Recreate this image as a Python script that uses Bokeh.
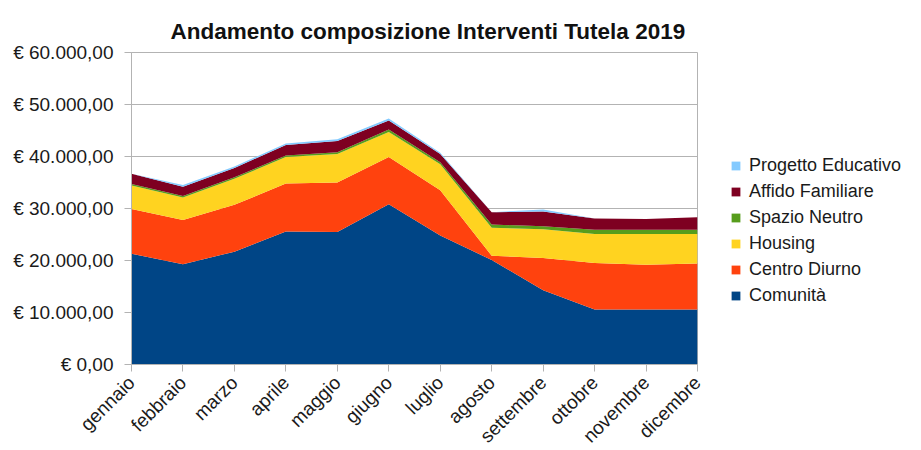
from bokeh.plotting import figure
from bokeh.models import (ColumnDataSource, Range1d, FixedTicker, Legend, LegendItem)
from bokeh.embed import file_html
from bokeh.resources import INLINE
import math

# ---- data ----
months = ["gennaio", "febbraio", "marzo", "aprile", "maggio", "giugno",
          "luglio", "agosto", "settembre", "ottobre", "novembre", "dicembre"]
comunita = [21300, 19300, 21700, 25600, 25500, 30800, 24800, 20100, 14300, 10600, 10600, 10600]
centro_diurno = [8600, 8500, 9000, 9200, 9500, 9100, 8700, 800, 6200, 8900, 8600, 8800]
housing = [4500, 4300, 5000, 5100, 5500, 4800, 5000, 5400, 5500, 5600, 5900, 5700]
spazio_neutro = [300, 300, 300, 300, 300, 500, 400, 600, 600, 800, 800, 800]
affido_familiare = [2000, 1800, 1800, 2000, 2200, 1700, 1600, 2400, 2800, 2200, 2100, 2400]
progetto_educativo = [0, 300, 300, 300, 300, 400, 200, 0, 400, 0, 0, 0]

series_names = ["Comunità", "Centro Diurno", "Housing", "Spazio Neutro",
                "Affido Familiare", "Progetto Educativo"]
series_keys = ["comunita", "centro", "housing", "spazio", "affido", "progetto"]
colors = ["#004586", "#ff420e", "#ffd320", "#579d1c", "#7e0021", "#83caff"]
y_ticks = [0, 10000, 20000, 30000, 40000, 50000, 60000]
y_tick_labels = ["€ 0,00", "€ 10.000,00", "€ 20.000,00", "€ 30.000,00",
                 "€ 40.000,00", "€ 50.000,00", "€ 60.000,00"]

source = ColumnDataSource(dict(
    x=list(range(len(months))),
    comunita=comunita, centro=centro_diurno, housing=housing,
    spazio=spazio_neutro, affido=affido_familiare, progetto=progetto_educativo,
))

FONT = "Liberation Sans"

p = figure(frame_width=566, frame_height=312, output_backend="svg", toolbar_location=None,
           x_range=Range1d(0, len(months) - 1), y_range=Range1d(0, 60000),
           min_border_left=131, min_border_right=224, min_border_top=52,
           min_border_bottom=80)
p.title.text = "Andamento composizione Interventi Tutela 2019"
p.title.text_font = FONT
p.title.text_font_size = "22.5px"
p.title.text_font_style = "bold"
p.title.align = "left"
p.title.offset = 39
p.title.standoff = 18
p.title.text_color = "#111111"

renderers = p.varea_stack(stackers=series_keys, x="x", color=colors, source=source)

p.outline_line_color = "#b3b3b3"
p.background_fill_color = "white"
p.border_fill_color = "white"

# axes
p.xaxis.ticker = FixedTicker(ticks=list(range(len(months))))
p.xaxis.major_label_overrides = {i: m for i, m in enumerate(months)}
p.xaxis.major_label_orientation = math.pi / 4
p.yaxis.ticker = FixedTicker(ticks=y_ticks)
p.yaxis.major_label_overrides = {v: l for v, l in zip(y_ticks, y_tick_labels)}
for ax in (p.xaxis, p.yaxis):
    ax.axis_line_color = "#b3b3b3"
    ax.major_tick_line_color = "#b3b3b3"
    ax.major_tick_out = 7
    ax.major_tick_in = 0
    ax.minor_tick_line_color = None
    ax.major_label_text_font = FONT
    ax.major_label_text_font_size = "19px"
    ax.major_label_text_color = "#1a1a1a"
p.yaxis.major_label_standoff = 11
p.xaxis.major_label_standoff = 8

p.xgrid.grid_line_color = None
p.ygrid.grid_line_color = "#b3b3b3"
p.ygrid.grid_line_alpha = 1.0

# legend (reverse order, top = Progetto Educativo)
items = [LegendItem(label=n, renderers=[r]) for n, r in zip(series_names, renderers)]
items = items[::-1]
legend = Legend(items=items, location=(33, 56), padding=0, margin=0,
                spacing=0, label_height=26, glyph_height=11, glyph_width=11,
                label_standoff=8, label_text_font=FONT, label_text_font_size="18px",
                label_text_color="#1a1a1a", border_line_color=None,
                background_fill_alpha=0)
p.add_layout(legend, "right")

open("out.html", "w").write(file_html(p, INLINE))
